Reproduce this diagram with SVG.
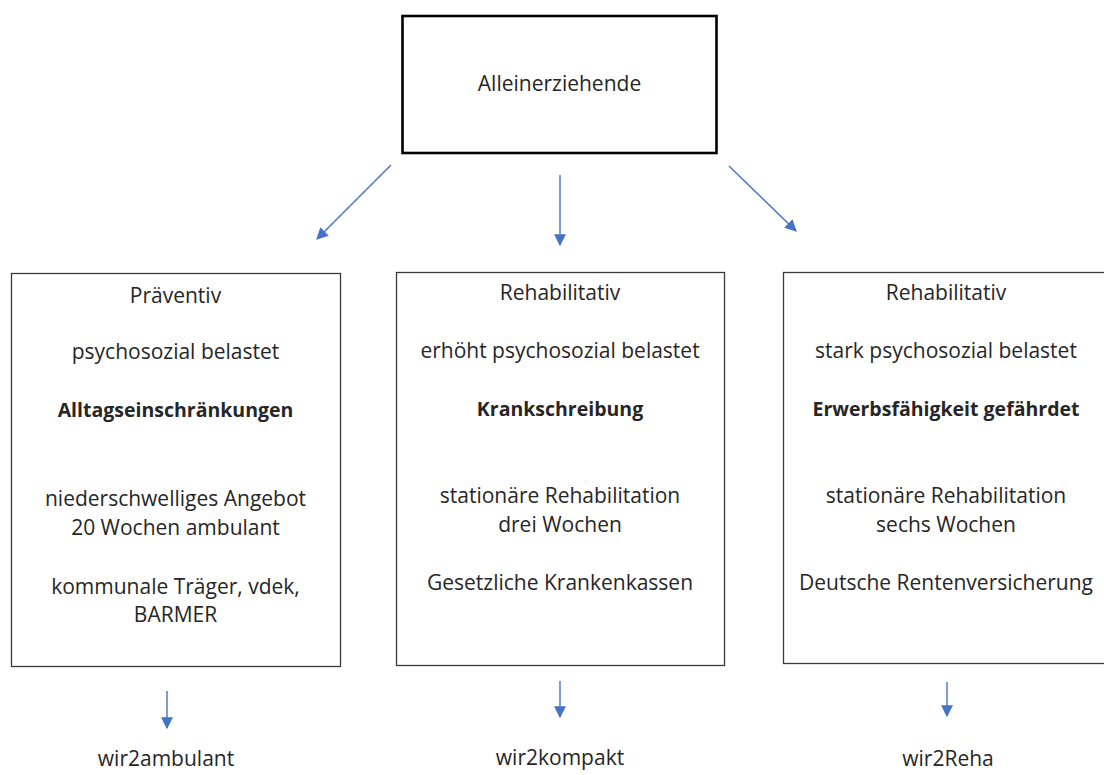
<svg xmlns="http://www.w3.org/2000/svg" width="1104" height="775" viewBox="0 0 1104 775">
<style>
text{font-family:"Open Sans","Liberation Sans",sans-serif;font-size:21px;fill:#262626;text-anchor:middle}
.b{font-weight:bold;font-size:19.5px}
.box{fill:#fff;stroke:#3a3a3a;stroke-width:1.3}
.top{fill:#fff;stroke:#000;stroke-width:2.6}
.con{stroke:#4472C4;stroke-width:1.4;fill:none;marker-end:url(#ah)}
</style>
<defs>
<marker id="ah" viewBox="0 0 10 10" refX="9" refY="5" markerWidth="8.5" markerHeight="8.5" orient="auto" markerUnits="strokeWidth">
<path d="M0,0 L10,5 L0,10 z" fill="#4472C4"/>
</marker>
</defs>
<rect width="1104" height="775" fill="#fff"/>
<g id="connectors">
<line class="con" x1="391" y1="165" x2="317" y2="239"/>
<line class="con" x1="560" y1="175" x2="560" y2="245"/>
<line class="con" x1="729" y1="166" x2="796" y2="231"/>
<line class="con" x1="167" y1="691" x2="167" y2="728"/>
<line class="con" x1="560" y1="681" x2="560" y2="717"/>
<line class="con" x1="947" y1="682" x2="947" y2="716"/>
</g>
<g id="alleinerziehende">
<rect class="top" x="402.5" y="16" width="314" height="137"/>
<text x="559.5" y="91">Alleinerziehende</text>
</g>
<g id="praeventiv">
<rect class="box" x="11.5" y="273.5" width="329" height="393"/>
<text x="175.5" y="303">Präventiv</text>
<text x="175.5" y="359">psychosozial belastet</text>
<text x="175.5" y="417" class="b">Alltagseinschränkungen</text>
<text x="175.5" y="506">niederschwelliges Angebot</text>
<text x="175.5" y="535">20 Wochen ambulant</text>
<text x="175.5" y="594">kommunale Träger, vdek,</text>
<text x="175.5" y="622">BARMER</text>
</g>
<g id="rehabilitativ-kompakt">
<rect class="box" x="396.5" y="272.5" width="328" height="393"/>
<text x="560" y="300">Rehabilitativ</text>
<text x="560" y="358">erhöht psychosozial belastet</text>
<text x="560" y="416" class="b">Krankschreibung</text>
<text x="560" y="503">stationäre Rehabilitation</text>
<text x="560" y="532">drei Wochen</text>
<text x="560" y="590">Gesetzliche Krankenkassen</text>
</g>
<g id="rehabilitativ-reha">
<rect class="box" x="783.5" y="272.5" width="340" height="391"/>
<text x="946" y="300">Rehabilitativ</text>
<text x="946" y="358">stark psychosozial belastet</text>
<text x="946" y="416" class="b">Erwerbsfähigkeit gefährdet</text>
<text x="946" y="503">stationäre Rehabilitation</text>
<text x="946" y="532">sechs Wochen</text>
<text x="946" y="590">Deutsche Rentenversicherung</text>
</g>
<g id="wir2ambulant"><text x="166" y="766">wir2ambulant</text></g>
<g id="wir2kompakt"><text x="560" y="765">wir2kompakt</text></g>
<g id="wir2reha"><text x="948" y="766">wir2Reha</text></g>
</svg>
